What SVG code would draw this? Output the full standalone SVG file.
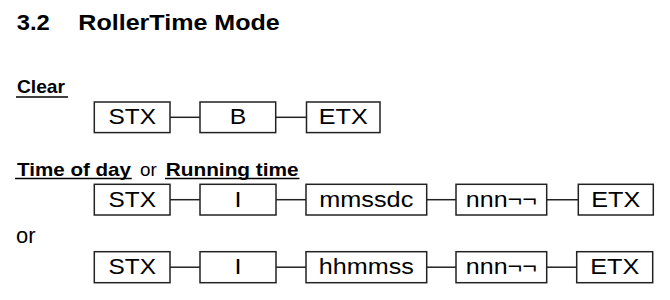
<svg xmlns="http://www.w3.org/2000/svg" width="670" height="300" viewBox="0 0 670 300">
<style>
  text { font-family: "Liberation Sans", Arial, sans-serif; fill: #000; }
  .title { font-size: 22.5px; font-weight: bold; }
  .head { font-size: 19px; font-weight: bold; }
  .headr { font-size: 19px; }
  .ul { stroke: #000; stroke-width: 1.6; }
  .box rect { fill: #fff; stroke: #222; stroke-width: 1.5; }
  .box text { font-size: 22.5px; text-anchor: middle; }
  .conn line { stroke: #222; stroke-width: 1.5; }
</style>
<rect width="670" height="300" fill="#fff"/>
<g id="title">
  <text class="title" x="16.7" y="30" textLength="33" lengthAdjust="spacingAndGlyphs">3.2</text>
  <text class="title" x="78.3" y="30" textLength="201.5" lengthAdjust="spacingAndGlyphs">RollerTime Mode</text>
</g>
<g id="heading-clear">
  <text class="head" x="17" y="92.7" textLength="48" lengthAdjust="spacingAndGlyphs">Clear</text>
  <line class="ul" x1="16" y1="97" x2="68" y2="97"/>
</g>
<g id="heading-time">
  <text class="head" x="17" y="176" textLength="114" lengthAdjust="spacingAndGlyphs">Time of day</text>
  <text class="headr" x="140" y="176" textLength="16.7" lengthAdjust="spacingAndGlyphs">or</text>
  <text class="head" x="165.7" y="176" textLength="133" lengthAdjust="spacingAndGlyphs">Running time</text>
  <line class="ul" x1="15" y1="178.5" x2="131.7" y2="178.5"/>
  <line class="ul" x1="165" y1="178.5" x2="299.5" y2="178.5"/>
</g>
<g id="label-or">
  <text x="16" y="242.7" style="font-size:21.5px" textLength="19.5" lengthAdjust="spacingAndGlyphs">or</text>
</g>
<g class="conn" id="connectors">
  <line x1="170" y1="117.3" x2="200" y2="117.3"/>
  <line x1="275.7" y1="117.3" x2="306.5" y2="117.3"/>
  <line x1="170" y1="199.7" x2="200" y2="199.7"/>
  <line x1="276" y1="199.7" x2="306" y2="199.7"/>
  <line x1="426.7" y1="199.7" x2="456" y2="199.7"/>
  <line x1="546.7" y1="199.7" x2="578.3" y2="199.7"/>
  <line x1="170" y1="267.2" x2="200" y2="267.2"/>
  <line x1="276" y1="267.2" x2="306" y2="267.2"/>
  <line x1="426.7" y1="267.2" x2="456" y2="267.2"/>
  <line x1="546.7" y1="267.2" x2="576.7" y2="267.2"/>
</g>
<g class="box" id="r1-stx"><rect x="94.3" y="102" width="75.7" height="30.6"/><text x="132.2" y="124" textLength="47.5" lengthAdjust="spacingAndGlyphs">STX</text></g>
<g class="box" id="r1-b"><rect x="200" y="102" width="75.7" height="30.6"/><text x="237.9" y="124" textLength="16.5" lengthAdjust="spacingAndGlyphs">B</text></g>
<g class="box" id="r1-etx"><rect x="306.5" y="102" width="73.5" height="30.6"/><text x="343.3" y="124" textLength="49" lengthAdjust="spacingAndGlyphs">ETX</text></g>

<g class="box" id="r2-stx"><rect x="94.3" y="184.3" width="75.7" height="30.7"/><text x="132.2" y="206.7" textLength="47.5" lengthAdjust="spacingAndGlyphs">STX</text></g>
<g class="box" id="r2-i"><rect x="200" y="184.3" width="76" height="30.7"/><text x="238" y="206.7" textLength="7" lengthAdjust="spacingAndGlyphs">I</text></g>
<g class="box" id="r2-mmssdc"><rect x="306" y="184.3" width="120.7" height="30.7"/><text x="366.3" y="206.7" textLength="94" lengthAdjust="spacingAndGlyphs">mmssdc</text></g>
<g class="box" id="r2-nnn"><rect x="456" y="184.3" width="90.7" height="30.7"/><text x="501.3" y="206.7" textLength="71" lengthAdjust="spacingAndGlyphs">nnn¬¬</text></g>
<g class="box" id="r2-etx"><rect x="578.3" y="184.3" width="75" height="30.7"/><text x="615.8" y="206.7" textLength="49" lengthAdjust="spacingAndGlyphs">ETX</text></g>

<g class="box" id="r3-stx"><rect x="94.3" y="251.7" width="75.7" height="31"/><text x="132.2" y="273.5" textLength="47.5" lengthAdjust="spacingAndGlyphs">STX</text></g>
<g class="box" id="r3-i"><rect x="200" y="251.7" width="76" height="31"/><text x="238" y="273.5" textLength="7" lengthAdjust="spacingAndGlyphs">I</text></g>
<g class="box" id="r3-hhmmss"><rect x="306" y="251.7" width="120.7" height="31"/><text x="366.3" y="273.5" textLength="95" lengthAdjust="spacingAndGlyphs">hhmmss</text></g>
<g class="box" id="r3-nnn"><rect x="456" y="251.7" width="90.7" height="31"/><text x="501.3" y="273.5" textLength="71" lengthAdjust="spacingAndGlyphs">nnn¬¬</text></g>
<g class="box" id="r3-etx"><rect x="576.7" y="251.7" width="76" height="31"/><text x="614.7" y="273.5" textLength="49" lengthAdjust="spacingAndGlyphs">ETX</text></g>
</svg>
